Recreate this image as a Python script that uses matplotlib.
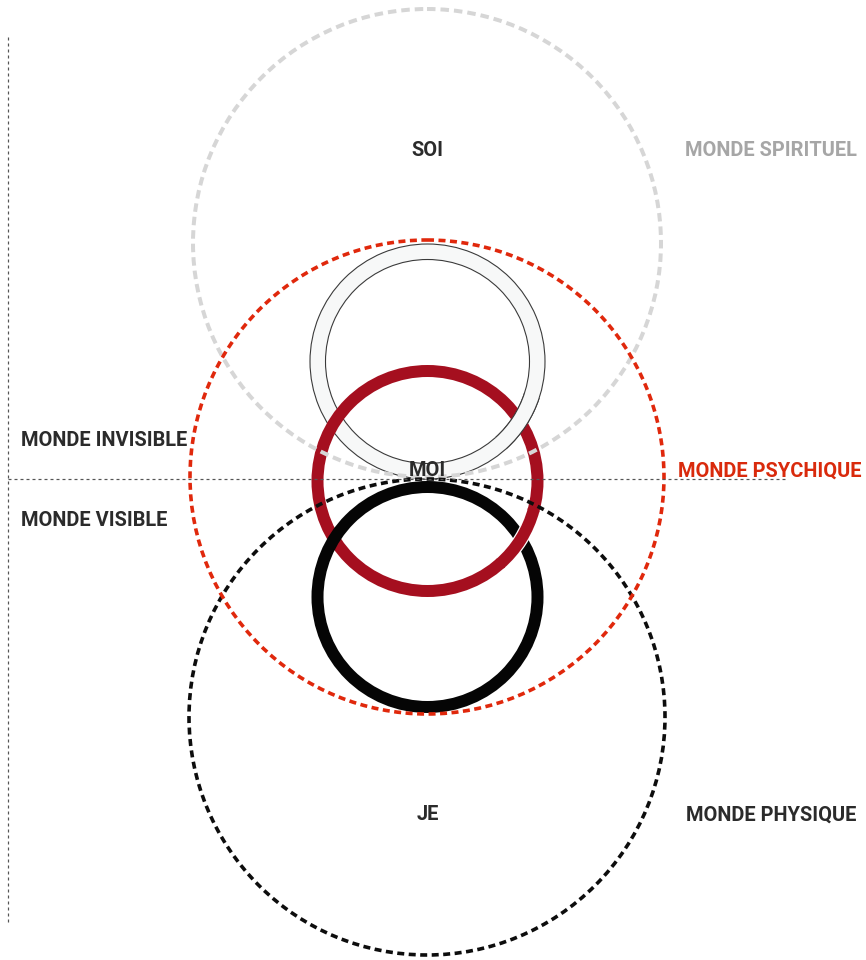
import matplotlib.pyplot as plt
from matplotlib.patches import Circle, Annulus, Arc

# everything is in picture pixels, y axis pointing down
W, H = 866, 960
PX = 72 / 100  # points per pixel at dpi=100

# the three "worlds" (big dashed circles)
world_names = ["MONDE SPIRITUEL", "MONDE PSYCHIQUE", "MONDE PHYSIQUE"]
world_cx = [427, 427, 427]
world_cy = [243, 477, 717]
world_r = [234, 237, 238]
world_colors = ["#d6d6d6", "#e0280c", "#0d0d0d"]
world_text_colors = ["#a6a6a6", "#d92a0c", "#2b2b2b"]
world_text_x = [857, 861, 856]
world_text_y = [150, 471, 815]

# the three selves (rings)
self_names = ["SOI", "MOI", "JE"]
self_text_y = [151, 471, 815]
ring_cy = [361.5, 481, 597]
ring_r = [110, 110, 110]

side_names = ["MONDE INVISIBLE", "MONDE VISIBLE"]
side_text_y = [441, 520]
split_y = 479


def dashes(on, off, lw):
    return (0, (on / lw, off / lw))


def draw(ax):
    cx = 427.5
    ring_w = 12

    # white ring (soi)
    ax.add_patch(Annulus((cx, ring_cy[0]), 117.5, 15.5, facecolor="#f7f8f8",
                         edgecolor="#3a3a3a", lw=1.1 * PX, zorder=2))
    # red ring (moi)
    ax.add_patch(Circle((cx, ring_cy[1]), ring_r[1], fill=False,
                        edgecolor="#a50f1f", lw=ring_w * PX, zorder=3))
    # white ring goes over the red one on the right
    ax.add_patch(Arc((cx, ring_cy[0]), 2 * 109.75, 2 * 109.75, theta1=18,
                     theta2=48, color="#f7f8f8", lw=15.5 * PX, zorder=4,
                     capstyle="butt"))
    for r in [117.5, 102]:
        ax.add_patch(Arc((cx, ring_cy[0]), 2 * r, 2 * r, theta1=18, theta2=48,
                         color="#3a3a3a", lw=1.1 * PX, zorder=4))
    # black ring (je)
    ax.add_patch(Circle((cx, ring_cy[2]), ring_r[2], fill=False,
                        edgecolor="#050505", lw=ring_w * PX, zorder=5))
    # red ring goes over the black one on the right
    ax.add_patch(Arc((cx, ring_cy[1]), 2 * ring_r[1], 2 * ring_r[1],
                     theta1=16, theta2=48, color="white",
                     lw=(ring_w + 2.5) * PX, zorder=6, capstyle="butt"))
    ax.add_patch(Arc((cx, ring_cy[1]), 2 * ring_r[1], 2 * ring_r[1],
                     theta1=15, theta2=49, color="#a50f1f",
                     lw=ring_w * PX, zorder=6, capstyle="butt"))

    # worlds
    lws = [4, 3.6, 3.6]
    ons = [8.5, 7, 7]
    offs = [5, 4.5, 4.5]
    zs = [7, 8, 7]
    for i in range(3):
        ax.add_patch(Circle((world_cx[i], world_cy[i]), world_r[i],
                            fill=False, edgecolor=world_colors[i],
                            lw=lws[i] * PX, zorder=zs[i],
                            linestyle=dashes(ons[i], offs[i], lws[i])))

    # visible / invisible split
    ax.plot([8, 785], [split_y, split_y], color="#555555", lw=1.2 * PX,
            linestyle=dashes(3, 3, 1.2), zorder=9)
    ax.plot([8, 8], [37, 922], color="#555555", lw=1.2 * PX,
            linestyle=dashes(3, 3, 1.2), zorder=9)

    font = dict(family="Roboto", fontweight="bold", fontsize=14.4,
                stretch="condensed", va="center", zorder=10)
    for i in range(3):
        ax.text(cx, self_text_y[i], self_names[i], ha="center",
                color="#2b2b2b", **font)
    for i in range(3):
        ax.text(world_text_x[i], world_text_y[i], world_names[i], ha="right",
                color=world_text_colors[i], **font)
    for i in range(2):
        ax.text(21, side_text_y[i], side_names[i], ha="left",
                color="#2b2b2b", **font)


def main():
    fig = plt.figure(figsize=(W / 100, H / 100), dpi=100)
    ax = fig.add_axes([0, 0, 1, 1])
    ax.set_xlim(0, W)
    ax.set_ylim(H, 0)
    ax.axis("off")
    draw(ax)
    fig.savefig("out.png", dpi=100, facecolor="white")


if __name__ == "__main__":
    main()
